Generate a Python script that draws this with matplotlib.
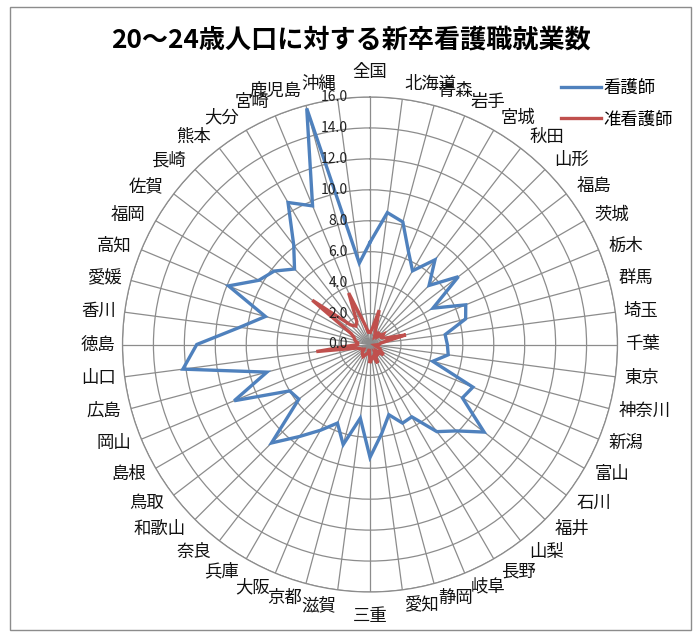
import numpy as np
import matplotlib
matplotlib.use("Agg")
import matplotlib.pyplot as plt
from matplotlib.transforms import offset_copy
from matplotlib.patches import Rectangle

plt.rcParams['font.family'] = ['Noto Sans CJK JP', 'DejaVu Sans']

# 都道府県（全国 + 47）
prefs = ["全国", "北海道", "青森", "岩手", "宮城", "秋田", "山形", "福島",
         "茨城", "栃木", "群馬", "埼玉", "千葉", "東京", "神奈川", "新潟",
         "富山", "石川", "福井", "山梨", "長野", "岐阜", "静岡", "愛知",
         "三重", "滋賀", "京都", "大阪", "兵庫", "奈良", "和歌山", "鳥取",
         "島根", "岡山", "広島", "山口", "徳島", "香川", "愛媛", "高知",
         "福岡", "佐賀", "長崎", "熊本", "大分", "宮崎", "鹿児島", "沖縄"]

# 看護師
kangoshi = [6.6, 8.6, 8.2, 6.5, 5.5, 6.9, 5.4, 7.2,
            4.7, 6.7, 6.4, 4.9, 5.0, 5.1, 4.2, 7.2,
            6.9, 9.3, 7.9, 7.1, 5.4, 5.5, 4.7, 5.8,
            7.3, 4.8, 6.7, 5.5, 6.4, 7.5, 9.0, 5.8,
            6.0, 9.5, 6.9, 12.2, 11.2, 8.5, 7.0, 9.9,
            8.3, 7.8, 6.9, 8.1, 10.6, 9.7, 15.8, 5.3]

# 准看護師
junkangoshi = [0.8, 1.0, 2.3, 0.9, 0.6, 1.0, 0.7, 1.1,
               0.9, 1.1, 2.4, 0.7, 0.6, 0.3, 0.4, 0.7,
               0.8, 1.1, 0.6, 0.9, 0.6, 1.3, 0.8, 0.9,
               1.2, 0.3, 0.6, 0.7, 0.9, 0.8, 0.7, 0.5,
               0.6, 0.7, 0.9, 3.5, 0.8, 0.8, 1.0, 1.1,
               1.4, 4.7, 1.8, 1.5, 1.7, 3.6, 1.4, 0.8]

r_ticks = [0, 2, 4, 6, 8, 10, 12, 14, 16]

W, H = 697, 637
cx, cy, R = 370, 344.5, 247.5

fig = plt.figure(figsize=(W / 100, H / 100), dpi=100)
fig.patches.append(Rectangle((10 / W, 1 - 630 / H), 681 / W, 623 / H,
                             transform=fig.transFigure, fill=False,
                             edgecolor='#8c8c8c', lw=1.0))

ax = fig.add_axes([(cx - R) / W, (H - cy - R) / H, 2 * R / W, 2 * R / H],
                  projection='polar')
ax.set_theta_zero_location('N')
ax.set_theta_direction(-1)

n = len(prefs)
theta = np.arange(n) * 2 * np.pi / n
th = np.append(theta, theta[0])

ax.plot(th, kangoshi + kangoshi[:1], color='#4F81BD', lw=2.4,
        label='看護師', zorder=3, solid_joinstyle='miter')
ax.plot(th, junkangoshi + junkangoshi[:1], color='#C0504D', lw=2.4,
        label='准看護師', zorder=3, solid_joinstyle='miter')

ax.set_ylim(0, 16)
ax.set_yticks(r_ticks)
ax.set_yticklabels([])
ax.set_xticks(theta)
ax.set_xticklabels([])
ax.tick_params(length=0)
ax.grid(color='#8c8c8c', lw=0.9)
ax.spines['polar'].set_color('#8c8c8c')
ax.spines['polar'].set_linewidth(0.9)

# 目盛ラベル
trans = offset_copy(ax.transData, fig=fig, x=-22, y=0, units='dots')
for v in r_ticks:
    ax.text(0, v, f'{v:.1f}', transform=trans, ha='right', va='center',
            fontsize=10, color='#222222', zorder=5)

# 項目ラベル
unit = R / 16
for t, name in zip(theta, prefs):
    s, c = np.sin(t), np.cos(t)
    rp = 255 + 8 * abs(c)
    if abs(s) < 0.05:
        ha = 'center'
        va = 'bottom' if c > 0 else 'top'
    else:
        ha = 'left' if s > 0 else 'right'
        va = 'center'
    ax.text(t, rp / unit, name, ha=ha, va=va, fontsize=12.5, color='#111111')

fig.text(351 / W, 1 - 40 / H, '20～24歳人口に対する新卒看護職就業数',
         ha='center', va='center', fontsize=18.8, fontweight='bold')

fig.legend(loc='upper left', bbox_to_anchor=(552 / W, 1 - 70 / H),
           frameon=False, fontsize=12.5, handlelength=2.3,
           handletextpad=0.15, labelspacing=0.8, borderpad=0)

fig.savefig('out.png', dpi=100)
